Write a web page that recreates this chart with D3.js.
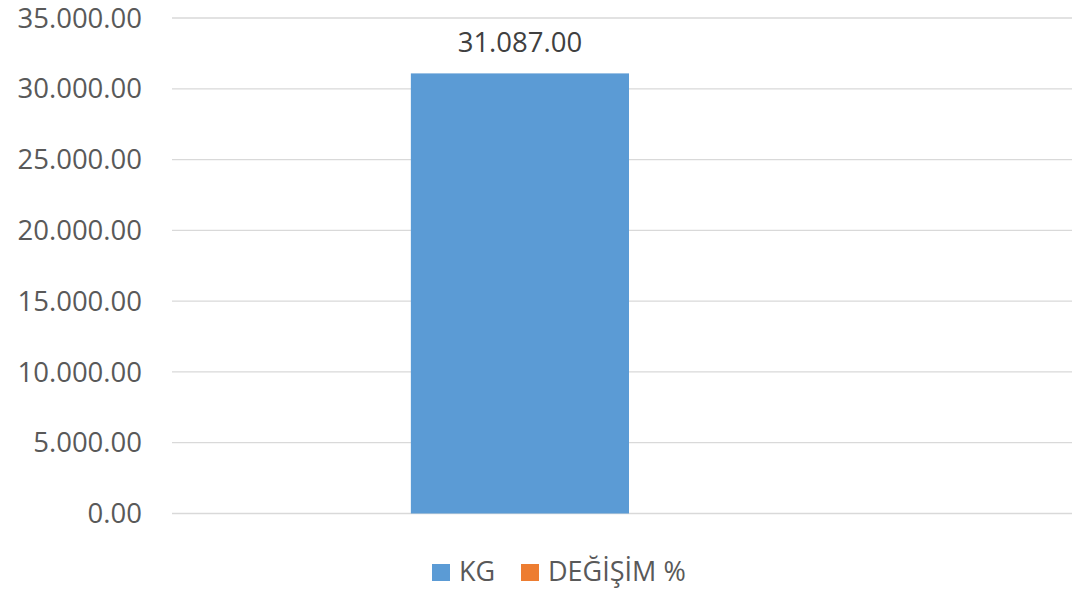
<!DOCTYPE html>
<html><head><meta charset="utf-8">
<script src="https://cdn.jsdelivr.net/npm/d3@7"></script>
<style>html,body{margin:0;padding:0;background:#fff;}svg{display:block;}</style>
</head><body>
<svg id="c" width="1072" height="589"></svg>
<script>
const categories = ["1"];
const seriesNames = ["KG", "DEĞİŞİM %"];
const kgValues = [31087];
const changeValues = [0];
const yTicks = [0, 5000, 10000, 15000, 20000, 25000, 30000, 35000];
const colors = ["#5B9BD5", "#ED7D31"];

(function () {
const svg = d3.select("#c");
const font = "'Open Sans', 'Segoe UI', sans-serif";
const textColor = "#595959";
const pLeft = 172, pRight = 1086, pTop = 18, pBottom = 513.5;

const fmt = v => d3.format(",.2f")(v).replace(/,/g, ".");

const y = d3.scaleLinear().domain([0, 35000]).range([pBottom, pTop]);
const x0 = d3.scaleBand().domain(categories).range([pLeft, pRight]).paddingInner(0).paddingOuter(0);
const gap = 2.19;
const cw = x0.bandwidth();
const bw = cw / (seriesNames.length + gap);

svg.append("g").selectAll("line").data(yTicks).join("line")
  .attr("x1", pLeft).attr("x2", 1072)
  .attr("y1", d => y(d)).attr("y2", d => y(d))
  .attr("stroke", "#D9D9D9").attr("stroke-width", 1.3);

svg.append("g").selectAll("text").data(yTicks).join("text")
  .attr("x", 142).attr("y", d => y(d)).attr("dy", "0.35em")
  .attr("text-anchor", "end")
  .attr("font-family", font).attr("font-size", 27.5).attr("fill", textColor)
  .text(d => fmt(d));

const series = [kgValues, changeValues];
series.forEach((vals, si) => {
  const g = svg.append("g");
  g.selectAll("rect").data(categories).join("rect")
    .attr("x", c => x0(c) + bw * gap / 2 + si * bw)
    .attr("width", bw)
    .attr("y", (c, i) => y(vals[i]))
    .attr("height", (c, i) => y(0) - y(vals[i]))
    .attr("fill", colors[si]);
  if (si === 0) {
    g.selectAll("text").data(categories).join("text")
      .attr("x", c => x0(c) + bw * gap / 2 + si * bw + bw / 2)
      .attr("y", (c, i) => y(vals[i]) - 21)
      .attr("text-anchor", "middle")
      .attr("font-family", font).attr("font-size", 27.5).attr("fill", "#404040")
      .text((c, i) => fmt(vals[i]));
  }
});

const leg = svg.append("g");
const legX = [432, 521];
seriesNames.forEach((n, i) => {
  leg.append("rect").attr("x", legX[i]).attr("y", 564).attr("width", 18).attr("height", 17).attr("fill", colors[i]);
  leg.append("text").attr("x", legX[i] + 27).attr("y", 581)
    .attr("font-family", font).attr("font-size", 27).attr("fill", textColor).text(n);
});
})();
</script>
</body></html>
